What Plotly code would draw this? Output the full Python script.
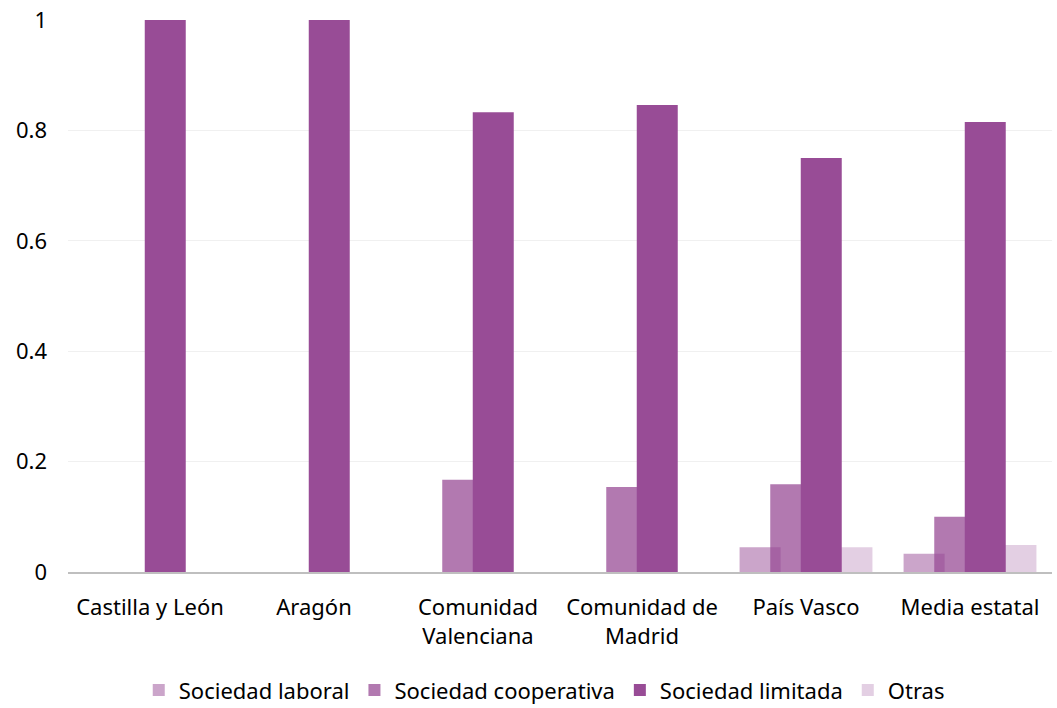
import plotly.graph_objects as go

categories = ["Castilla y León", "Aragón", "Comunidad<br>Valenciana", "Comunidad de<br>Madrid", "País Vasco", "Media estatal"]
series_names = ["Sociedad laboral", "Sociedad cooperativa", "Sociedad limitada", "Otras"]
laboral = [0, 0, 0, 0, 0.045, 0.033]
cooperativa = [0, 0, 0.167, 0.154, 0.159, 0.100]
limitada = [1.0, 1.0, 0.833, 0.846, 0.75, 0.815]
otras = [0, 0, 0, 0, 0.045, 0.049]
y_ticks = [0, 0.2, 0.4, 0.6, 0.8, 1]
y_tick_labels = ["0", "0.2", "0.4", "0.6", "0.8", "1"]

colors = ["rgba(152,76,150,0.5)", "rgba(152,76,150,0.75)", "rgb(152,76,150)", "rgba(152,76,150,0.27)"]
offsets = [-0.405, -0.218, -0.032, 0.155]
width = 0.25
values = [laboral, cooperativa, limitada, otras]
xs = list(range(len(categories)))

fig = go.Figure()
draw_order = [3, 1, 0, 2]
for i in draw_order:
    fig.add_trace(go.Bar(
        x=xs, y=values[i], name=series_names[i],
        marker=dict(color=colors[i], line=dict(width=0)),
        width=width, offset=offsets[i], legendrank=i + 1,
    ))

fig.update_layout(
    width=1057, height=708,
    barmode="overlay",
    plot_bgcolor="white", paper_bgcolor="white",
    margin=dict(l=68, r=5, t=20, b=136, autoexpand=False),
    font=dict(family="Noto Sans", size=22, color="#000000"),
    legend=dict(orientation="h", x=0.484, xanchor="center", y=-0.214, yanchor="middle",
                font=dict(size=22), traceorder="normal"),
    showlegend=True,
)
fig.update_xaxes(
    tickmode="array", tickvals=xs, ticktext=categories,
    range=[-0.5, len(categories) - 0.5],
    showline=True, linecolor="#BFBFBF", linewidth=2,
    showgrid=False, ticks="", zeroline=False, ticklabelstandoff=15,
    automargin=False,
)
fig.update_yaxes(
    range=[0, 1], tickmode="array", tickvals=y_ticks, ticktext=y_tick_labels,
    showgrid=True, gridcolor="#F0F0F0", gridwidth=1,
    zeroline=False, showline=False, ticks="", ticklabelstandoff=20,
    ticklabeloverflow="allow", automargin=False,
)
fig.write_html("out.html", config={"displayModeBar": False},
               post_script="document.body.style.margin='0';")
